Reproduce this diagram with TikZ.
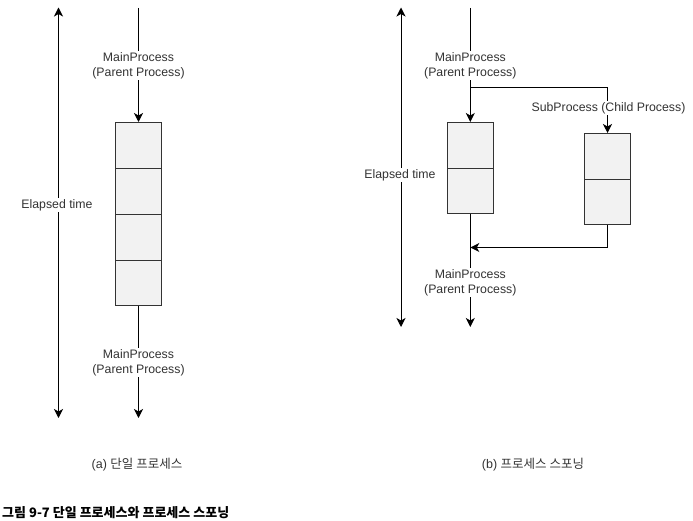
\documentclass[tikz,border=0pt]{standalone}
\usepackage{fontspec}
\setmainfont{Liberation Sans}
\newfontfamily\krfont{Noto Sans CJK KR}
\usetikzlibrary{arrows.meta}
\definecolor{boxfill}{HTML}{F2F2F2}
\definecolor{txt}{HTML}{333333}
\tikzset{
  conn/.style={draw=black, line width=1pt},
  tip/.style={},
  arr/.style={conn, -{Stealth[length=9pt,width=9pt,inset=2.5pt]}},
  darr/.style={conn, {Stealth[length=9pt,width=9pt,inset=2.5pt]}-{Stealth[length=9pt,width=9pt,inset=2.5pt]}},
  cell/.style={draw=black!80, line width=0.9pt, fill=boxfill, minimum width=46pt, inner sep=0pt, anchor=north},
  lbl/.style={fill=white, text=txt, font=\fontsize{12.3}{14.8}\selectfont, align=center, inner sep=1pt},
  captext/.style={text=txt, font=\fontsize{12.5}{14}\selectfont},
}
\begin{document}
\begin{tikzpicture}[x=1pt,y=-1pt]
\useasboundingbox (0,0) rectangle (693,521);
% ---------- (a) single process ----------
\coordinate (la-top) at (58.5,7.5);
\coordinate (la-bot) at (58.5,418);
\draw[darr] (la-top) -- (la-bot);
\node[lbl] (la-label) at (57,205) {Elapsed time};

\coordinate (ma-start) at (138.5,8);
\node[cell, minimum height=46pt] (a1) at (138.5,122) {};
\node[cell, minimum height=46pt] (a2) at (138.5,168) {};
\node[cell, minimum height=46pt] (a3) at (138.5,214) {};
\node[cell, minimum height=45pt] (a4) at (138.5,260) {};
\coordinate (ma-end) at (138.5,418);
\draw[arr] (ma-start) -- (a1.north);
\draw[arr] (a4.south) -- (ma-end);
\node[lbl] (ma-l1) at (138.5,65.5) {MainProcess\\(Parent Process)};
\node[lbl] (ma-l2) at (138.5,362.5) {MainProcess\\(Parent Process)};

% ---------- (b) process spawning ----------
\coordinate (lb-top) at (401,7.5);
\coordinate (lb-bot) at (401,327);
\draw[darr] (lb-top) -- (lb-bot);
\node[lbl] (lb-label) at (400,175) {Elapsed time};

\coordinate (mb-start) at (470.3,8);
\node[cell, minimum height=46pt] (b1) at (470.3,122) {};
\node[cell, minimum height=45pt] (b2) at (470.3,168) {};
\node[cell, minimum height=46pt] (c1) at (607.5,133) {};
\node[cell, minimum height=45pt] (c2) at (607.5,179) {};
\coordinate (fork) at (470.3,87.5);
\coordinate (mb-end) at (470.3,327);
\coordinate (join) at (470.3,247.5);
\draw[arr] (mb-start) -- (b1.north);
\draw[arr] (fork) -| (c1.north);
\draw[arr] (b2.south) -- (mb-end);
\draw[arr] (c2.south) |- (join);
\node[lbl] (mb-l1) at (470.3,65.5) {MainProcess\\(Parent Process)};
\node[lbl] (sub-l) at (608.5,108) {SubProcess (Child Process)};
\node[lbl] (mb-l2) at (470.3,282.5) {MainProcess\\(Parent Process)};

% ---------- captions ----------
\node[captext] (capa) at (137,465) {(a) \krfont 단일 프로세스};
\node[captext] (capb) at (533,465) {(b) \krfont 프로세스 스포닝};
\node[anchor=west, inner sep=0pt, font=\krfont\bfseries\fontsize{13}{15}\selectfont] (fig) at (2,513) {그림 9-7 단일 프로세스와 프로세스 스포닝};
\end{tikzpicture}
\end{document}
